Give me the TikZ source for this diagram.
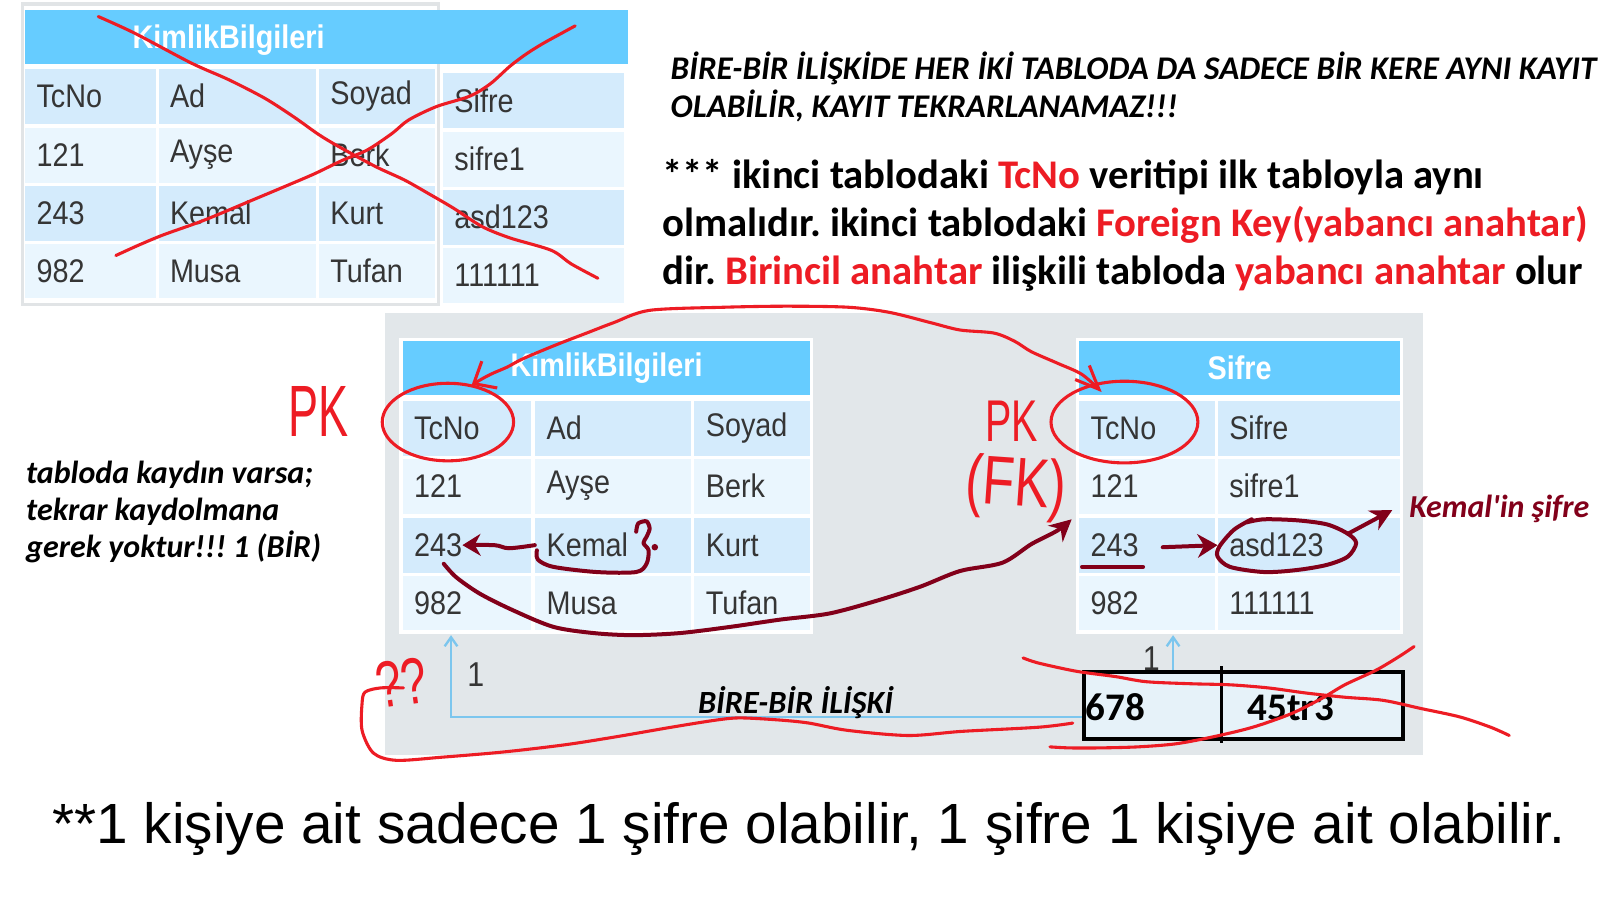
\documentclass[tikz,border=0pt]{standalone}
\usepackage{fontspec}
\setmainfont{Liberation Sans}
\newfontfamily\calib{Carlito}
\newfontfamily\calibq[Ligatures=TeXOff]{Carlito}
\newfontfamily\tabfont[FakeStretch=0.88]{Liberation Sans}
\usetikzlibrary{shapes.geometric, arrows.meta, positioning}
\definecolor{HeadBlue}{HTML}{66CCFF}
\definecolor{CellDark}{HTML}{D4EBFC}
\definecolor{CellLight}{HTML}{EAF6FE}
\definecolor{PanelGray}{HTML}{E2E7EA}
\definecolor{FrameGray}{HTML}{E1E4E6}
\definecolor{CellText}{HTML}{353535}
\definecolor{PenRed}{HTML}{ED1C24}
\definecolor{PenMaroon}{HTML}{82001A}
\definecolor{LinkBlue}{HTML}{7CC6EE}
\definecolor{BoxFill}{HTML}{E6F2F9}

\begin{document}
\frenchspacing
\begin{tikzpicture}[x=0.02cm, y=-0.02cm,
    tcell/.style={anchor=west, inner xsep=0.22cm, inner ysep=0pt, minimum height=1.06cm, align=left, text=CellText, font=\tabfont\fontsize{18}{20}\selectfont},
    head/.style={fill=HeadBlue, text=white, inner sep=0pt, minimum height=1.04cm, font=\tabfont\bfseries\fontsize{18}{20}\selectfont},
    note/.style={anchor=west, align=left, inner sep=0pt},
    hand/.style={text=PenRed, inner sep=0pt, font=\fontsize{#1}{#1}\selectfont},
    redpen/.style={draw=PenRed, line width=1.7pt, line cap=round, line join=round},
    marpen/.style={draw=PenMaroon, line width=2.2pt, line cap=round, line join=round},
    ring/.style={draw=PenRed, line width=1.7pt, ellipse, inner sep=0pt}]
    \useasboundingbox (0,0) rectangle (1568,872);
    \fill[white] (0,0) rectangle (1568,872);

    % old table, crossed out
    \fill[FrameGray] (20,2) rectangle (425,296);
    \fill[white] (23,6) rectangle (422,293);
    \node[head, anchor=west, minimum width=11.66cm] (topHead) at (24,36) {};
    \node[text=white, font=\tabfont\bfseries\fontsize{18}{20}\selectfont] (topTitle) at (221,39) {KimlikBilgileri};
    \foreach \y/\f/\a/\b/\c [count=\i] in {93/CellDark/TcNo/Ad/Soyad, 150/CellLight/121/Ayşe/Berk, 206/CellDark/243/Kemal/Kurt, 262/CellLight/982/Musa/Tufan}{
        \node[tcell, fill=\f, minimum width=2.52cm, text width=2.08cm] (tA\i) at (24,\y) {\a};
        \node[tcell, fill=\f, minimum width=3.04cm, text width=2.6cm] (tB\i) at (153,\y) {\b};
        \node[tcell, fill=\f, minimum width=2.24cm, text width=1.8cm] (tC\i) at (308,\y) {\c};
    }
    \foreach \y/\f/\s [count=\i] in {97/CellDark/Sifre, 154/CellLight/sifre1, 210/CellDark/asd123, 266/CellLight/111111}{
        \node[tcell, fill=\f, minimum width=3.5cm, text width=3.06cm] (tS\i) at (428,\y) {\s};
    }
    \draw[redpen] plot[smooth] coordinates {(95,16) (130,32) (185,61) (221,77) (256,95) (284,113) (308,130) (328,142) (363,161) (391,174) (414,187) (438,201) (466,219) (493,230) (533,242) (552,255) (578,269)};
    \draw[redpen] plot[smooth] coordinates {(556,25) (545,31) (525,42) (509,52) (493,64) (474,81) (454,93) (422,103) (395,116) (379,129) (355,145) (331,155) (304,168) (276,180) (245,193) (197,213) (158,227) (134,237) (112,247)};

    % notes
    \node[note, font=\calib\bfseries\itshape\fontsize{18.2}{20.4}\selectfont] (ruleNote) at (648,84) {BİRE-BİR İLİŞKİDE HER İKİ TABLODA DA SADECE BİR KERE AYNI KAYIT\\OLABİLİR, KAYIT TEKRARLANAMAZ!!!};
    \node[note, font=\calib\bfseries\fontsize{22.4}{26.6}\selectfont] (fkNote) at (640,218) {*** ikinci tablodaki \textcolor{PenRed}{TcNo} veritipi ilk tabloyla aynı\\olmalıdır. ikinci tablodaki \textcolor{PenRed}{Foreign Key(yabancı anahtar)}\\dir. \textcolor{PenRed}{Birincil anahtar} ilişkili tabloda \textcolor{PenRed}{yabancı anahtar} olur};
    \node[note, font=\calib\bfseries\itshape\fontsize{17.6}{20.4}\selectfont] (dupNote) at (25,495) {tabloda kaydın varsa;\\tekrar kaydolmana\\gerek yoktur!!! 1 (BİR)};
    \node[font=\fontsize{31.2}{36}\selectfont] (oneToOne) at (782,801) {**1 kişiye ait sadece 1 şifre olabilir, 1 şifre 1 kişiye ait olabilir.};

    % new tables
    \fill[PanelGray] (372,303) rectangle (1376,730);
    \fill[white] (386,327) rectangle (786,613);
    \fill[white] (1040,327) rectangle (1356,613);
    \node[head, anchor=west, minimum width=7.88cm] (midHead) at (389,356) {KimlikBilgileri};
    \node[head, anchor=west, minimum width=6.2cm] (sifHead) at (1043,356) {Sifre};
    \foreach \y/\f/\a/\b/\c/\s [count=\i] in {414/CellDark/TcNo/Ad/Soyad/Sifre, 470/CellLight/121/Ayşe/Berk/sifre1, 527/CellDark/243/Kemal/Kurt/asd123, 583/CellLight/982/Musa/Tufan/111111}{
        \node[tcell, fill=\f, minimum width=2.48cm, text width=2.04cm] (mA\i) at (389,\y) {\a};
        \node[tcell, fill=\f, minimum width=3.02cm, text width=2.58cm] (mB\i) at (517,\y) {\b};
        \node[tcell, fill=\f, minimum width=2.24cm, text width=1.8cm] (mC\i) at (671,\y) {\c};
        \node[tcell, fill=\f, minimum width=2.62cm, text width=2.18cm] (sA\i) at (1043,\y) {\a};
        \node[tcell, fill=\f, minimum width=3.52cm, text width=3.08cm] (sB\i) at (1177,\y) {\s};
    }

    % one-to-one link
    \coordinate (linkL) at (436,614);
    \coordinate (linkR) at (1134,614);
    \draw[LinkBlue, line width=1.3pt, {Straight Barb[length=5pt,width=7pt]}-{Straight Barb[length=5pt,width=7pt]}] (linkL) -- (436,693) -- (1134,693) -- (linkR);
    \node[text=CellText, font=\tabfont\fontsize{19}{20}\selectfont] (oneL) at (460,652) {1};
    \node[text=CellText, font=\tabfont\fontsize{19}{20}\selectfont] (oneR) at (1113,637) {1};
    \node[font=\calib\bfseries\itshape\fontsize{17.8}{20}\selectfont] (relLabel) at (769,679) {BİRE-BİR İLİŞKİ};

    % rejected record
    \node[draw=black, line width=2.3pt, fill=BoxFill, anchor=west, minimum width=6.16cm, minimum height=1.3cm] (pwBox) at (1046,682) {};
    \draw[line width=1.4pt] (1181,644) -- (1181,718);
    \node[anchor=west, inner sep=0pt, font=\calib\bfseries\fontsize{21.5}{24}\selectfont] (pw678) at (1049,684) {678};
    \node[inner sep=0pt, font=\calib\bfseries\fontsize{21.5}{24}\selectfont] (pw45) at (1248,684) {45tr3};

    % red pen
    \node[ring, minimum width=2.54cm, minimum height=1.5cm] (pkRingL) at (433,408) {};
    \node[ring, minimum width=2.84cm, minimum height=1.58cm] (pkRingR) at (1087,408) {};
    \node[hand=40] (pkLeft) at (308,398) {\scalebox{0.62}[1]{PK}};
    \node[hand=32.4] (pkRight) at (978,407) {\scalebox{0.67}[1]{PK}};
    \node[hand=38, rotate=-4] (fkRight) at (982,472) {\scalebox{0.75}[1]{(FK)}};
    \node[hand=36, rotate=8] (qMarks) at (388,660) {\scalebox{0.7}[1]{??}};
    \draw[redpen, {Straight Barb[length=10pt,width=17pt]}-{Straight Barb[length=13pt,width=11pt]}] plot[smooth] coordinates {(456,372) (474,362) (490,355) (503,348) (519,341) (541,332) (567,322) (593,312) (628,300) (700,297) (760,296) (820,297) (860,302) (900,312) (928,319) (961,322) (981,330) (997,340) (1022,351) (1046,362) (1065,379)};
    \draw[redpen] plot[smooth] coordinates {(1037,699) (1004,703) (930,707) (878,711) (819,706) (782,699) (753,696) (716,694) (693,696) (649,703) (597,712) (546,720) (486,727) (427,732) (383,735) (361,728) (350,706) (350,680) (353,669) (368,665) (390,665)};
    \draw[redpen] plot[smooth] coordinates {(989,636) (1004,641) (1041,649) (1078,654) (1108,659) (1152,661) (1189,662) (1226,665) (1263,670) (1300,674) (1337,677) (1374,685) (1411,693) (1441,703) (1459,711)};
    \draw[redpen] plot[smooth] coordinates {(1367,625) (1352,635) (1330,648) (1300,662) (1278,675) (1248,690) (1211,703) (1174,712) (1137,719) (1100,722) (1063,723) (1034,723) (1015,722)};

    % maroon pen
    \node[note, text=PenMaroon, font=\calibq\bfseries\itshape\fontsize{17.6}{20}\selectfont] (kemalNote) at (1362,492) {Kemal\textquotesingle in şifre};
    \draw[marpen, -{Stealth[length=10pt,width=12pt]}] plot[smooth] coordinates {(mB3.west) (492,530) (478,527) (447,527)};
    \draw[marpen] plot[smooth] coordinates {(519,532) (520,541) (535,548) (577,553) (615,553) (625,545) (627,532) (622,525) (625,519) (628,511) (625,504) (617,506) (615,514)};
    \fill[PenMaroon] (633,529) circle (1.8pt);
    \draw[marpen, -{Stealth[length=12pt,width=12pt]}] plot[smooth] coordinates {(429,545) (441,558) (464,574) (496,590) (535,606) (574,612) (612,614) (657,612) (706,606) (754,599) (802,593) (850,580) (890,567) (928,552) (969,544) (997,526) (1022,513) (1036,502)};
    \draw[marpen] (1046,548) -- (1105,548);
    \draw[marpen, -{Stealth[length=11pt,width=13pt]}] (1124,529) -- (sB3.west);
    \draw[marpen] plot[smooth] coordinates {(1210,502) (1193,512) (1179,528) (1177,538) (1189,548) (1222,553) (1254,551) (1283,546) (1303,538) (1311,525) (1303,516) (1283,507) (1254,503) (1222,502) (1205,505)};
    \draw[marpen, -{Stealth[length=12pt,width=12pt]}] (1303,516) -- (1346,493);
\end{tikzpicture}
\end{document}
